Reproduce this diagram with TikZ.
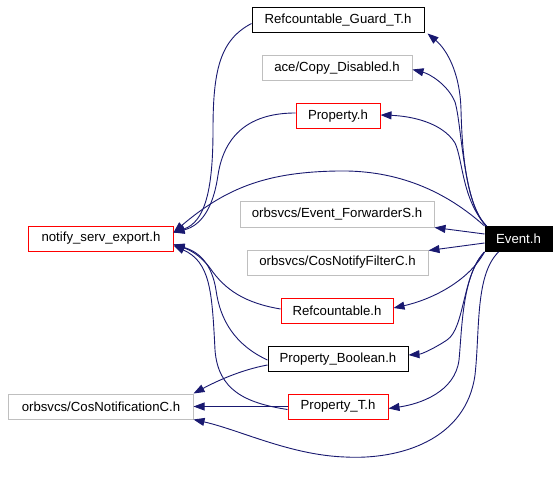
\documentclass[tikz,border=0pt]{standalone}
\usepackage{fontspec}
\setmainfont{Liberation Sans}
\usetikzlibrary{arrows.meta}

\definecolor{depblue}{HTML}{191970}
\definecolor{boxgray}{HTML}{BFBFBF}

\tikzset{
  hfile/.style={rectangle, draw, line width=1bp, inner sep=0pt, minimum height=25bp,
    font=\fontsize{13.2bp}{15bp}\selectfont},
  redfile/.style={hfile, draw=red},
  grayfile/.style={hfile, draw=boxgray},
  blackfile/.style={hfile, draw=black},
  mainfile/.style={hfile, draw=black, fill=black, text=white},
  dep/.style={draw=depblue, line width=0.9bp, -{Triangle[length=11bp,width=8bp,fill=depblue]}}
}

\begin{document}
\begin{tikzpicture}[x=1bp, y=-1bp]
  \useasboundingbox (0,0) rectangle (559,492);

  % the file itself
  \node[mainfile, minimum width=67bp](eventH) at (518.5,239){Event.h};

  % files it includes
  \node[blackfile, minimum width=172bp](guardH) at (338,20.5){Refcountable\_Guard\_T.h};
  \node[grayfile, minimum width=150bp](copyH) at (337,68.5){ace/Copy\_Disabled.h};
  \node[redfile, minimum width=84bp](propH) at (338,116){Property.h};
  \node[grayfile, minimum width=194bp](fwdH) at (337,214.5){orbsvcs/Event\_ForwarderS.h};
  \node[grayfile, minimum width=181bp](filterH) at (337.5,262.5){orbsvcs/CosNotifyFilterC.h};
  \node[redfile, minimum width=144bp](exportH) at (101,238.5){notify\_serv\_export.h};
  \node[redfile, minimum width=112bp](refcH) at (337,311){Refcountable.h};
  \node[blackfile, minimum width=140bp](boolH) at (338,359){Property\_Boolean.h};
  \node[redfile, minimum width=100bp](proptH) at (338,406.5){Property\_T.h};
  \node[grayfile, minimum width=184bp](cosnotH) at (101,406.5){orbsvcs/CosNotificationC.h};

  % Event.h includes
  \draw[dep] ([xshift=2bp]eventH.north west) .. controls (466,205) and (462,150) .. (461,110)
    .. controls (460,70) and (445,48) .. ([xshift=3bp]guardH.south east);
  \draw[dep] ([xshift=2bp]eventH.north west) .. controls (463,205) and (462,125) .. (455,102)
    .. controls (448,85) and (430,74) .. ([yshift=-1bp]copyH.east);
  \draw[dep] ([xshift=2bp]eventH.north west) .. controls (462,200) and (463,160) .. (455,143)
    .. controls (442,122) and (410,116) .. ([yshift=1bp]propH.east);
  \draw[dep] (eventH.north west) .. controls (440,186) and (390,170) .. (338,171)
    .. controls (270,172) and (228,186) .. ([yshift=6bp]exportH.east);
  \draw[dep] ([yshift=5bp]eventH.west) -- (fwdH.south east);
  \draw[dep] ([yshift=-4bp]eventH.west) -- ([yshift=-1bp]filterH.north east);
  \draw[dep] (eventH.south west) .. controls (468,282) and (430,300) .. ([yshift=3bp]refcH.east);
  \draw[dep] (eventH.south west) .. controls (462,275) and (465,328) .. (447,340)
    .. controls (435,348) and (422,354) .. ([yshift=4bp]boolH.east);
  \draw[dep] (eventH.south west) .. controls (462,275) and (462,330) .. (459,360)
    .. controls (455,392) and (420,404) .. ([yshift=-2bp]proptH.east);
  \draw[dep] ([xshift=-20bp]eventH.south) .. controls (475,275) and (480,330) .. (475,375)
    .. controls (466,440) and (400,460) .. (345,457)
    .. controls (290,455) and (240,430) .. (cosnotH.south east);

  % other includes
  \draw[dep] ([yshift=-3bp]guardH.west) .. controls (220,40) and (213,70) .. (213,130)
    .. controls (213,190) and (205,222) .. ([yshift=6bp]exportH.east);
  \draw[dep] ([yshift=3bp]propH.west) .. controls (255,113) and (225,130) .. (218,175)
    .. controls (213,210) and (200,226) .. ([yshift=6bp]exportH.east);
  \draw[dep] ([yshift=2bp]refcH.west) .. controls (245,303) and (225,290) .. (210,268)
    .. controls (200,255) and (190,250) .. ([yshift=-6bp]exportH.east);
  \draw[dep] ([yshift=-1bp]boolH.west) .. controls (235,345) and (220,320) .. (216,290)
    .. controls (212,265) and (200,252) .. ([yshift=-6bp]exportH.east);
  \draw[dep] ([yshift=-3bp]proptH.west) .. controls (245,403) and (218,390) .. (215,350)
    .. controls (212,290) and (210,262) .. ([yshift=-7bp]exportH.east);
  \draw[dep] ([yshift=-6bp]boolH.west) .. controls (240,370) and (215,382) .. (cosnotH.north east);
  \draw[dep] (proptH.west) -- (cosnotH.east);
\end{tikzpicture}
\end{document}
